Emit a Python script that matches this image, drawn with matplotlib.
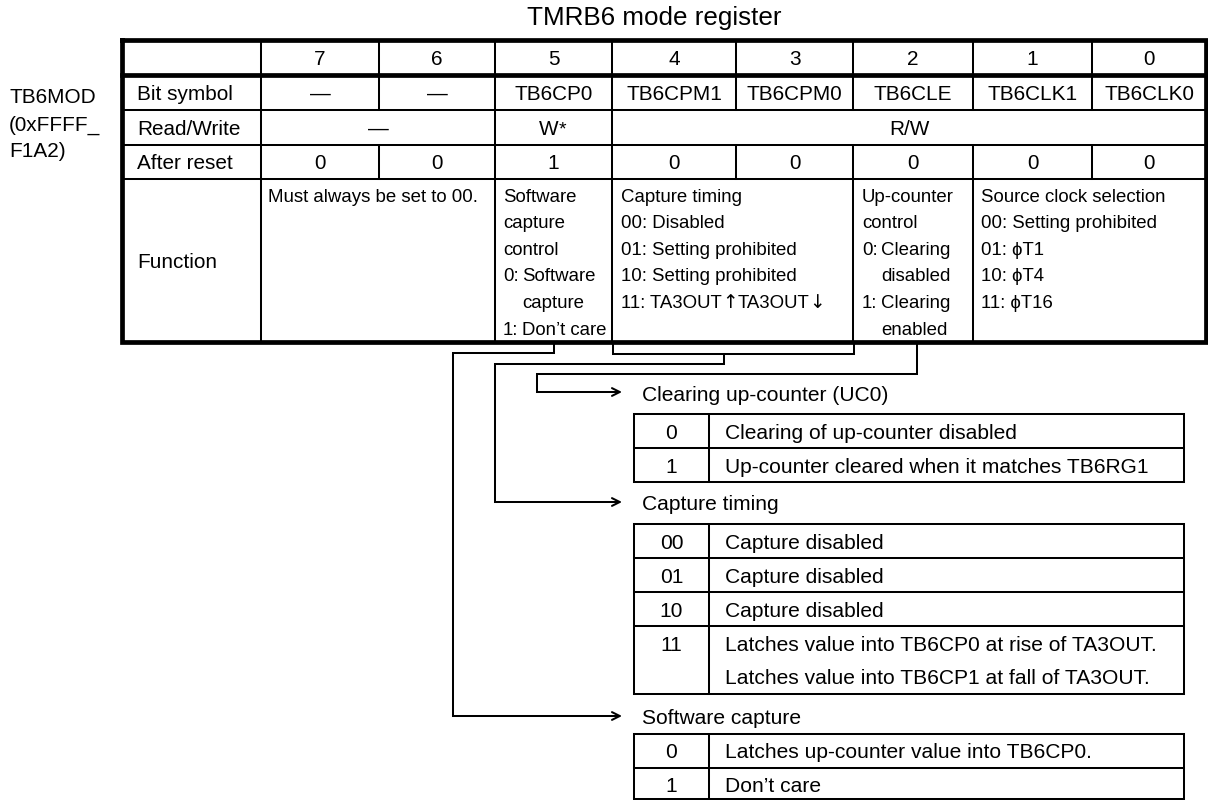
import matplotlib
matplotlib.use("Agg")
import matplotlib.pyplot as plt

FONT = ["Liberation Sans", "DejaVu Sans"]

# register content
title = "TMRB6 mode register"
reg_name = "TB6MOD\n(0xFFFF_\nF1A2)"
row_labels = ["", "Bit symbol", "Read/Write", "After reset", "Function"]
bits = ["7", "6", "5", "4", "3", "2", "1", "0"]
bit_symbols = ["\u2014", "\u2014", "TB6CP0", "TB6CPM1", "TB6CPM0", "TB6CLE", "TB6CLK1", "TB6CLK0"]
rw_groups = ["\u2014", "W", "R/W"]
reset_values = ["0", "0", "1", "0", "0", "0", "0", "0"]

func_76 = ["Must always be set to 00."]
func_5 = [("", "Software"), ("", "capture"), ("", "control"),
          ("0:", "Software"), ("", "capture"), ("1:", "Don\u2019t care")]
func_43 = ["Capture timing", "00: Disabled", "01: Setting prohibited",
           "10: Setting prohibited"]
func_43_last = ["11: TA3OUT", "\u2191", "TA3OUT", "\u2193"]
func_2 = [("", "Up-counter"), ("", "control"), ("0:", "Clearing"),
          ("", "disabled"), ("1:", "Clearing"), ("", "enabled")]
func_10 = ["Source clock selection", "00: Setting prohibited",
           "01: \u03d5T1", "10: \u03d5T4", "11: \u03d5T16"]

uc_title = "Clearing up-counter (UC0)"
uc_codes = ["0", "1"]
uc_desc = [["Clearing of up-counter disabled"],
           ["Up-counter cleared when it matches TB6RG1"]]

ct_title = "Capture timing"
ct_codes = ["00", "01", "10", "11"]
ct_desc = [["Capture disabled"], ["Capture disabled"], ["Capture disabled"],
           ["Latches value into TB6CP0 at rise of TA3OUT.",
            "Latches value into TB6CP1 at fall of TA3OUT."]]

sw_title = "Software capture"
sw_codes = ["0", "1"]
sw_desc = [["Latches up-counter value into TB6CP0."], ["Don\u2019t care"]]

# layout (pixels)
fig = plt.figure(figsize=(12.08, 8.0), dpi=100)
ax = fig.add_axes([0, 0, 1, 1])
ax.set_xlim(0, 1208)
ax.set_ylim(800, 0)
ax.axis("off")
renderer = fig.canvas.get_renderer()

THIN = 1.45
THICK = 3.4


def txt(x, yc, s, px, ha="left", family=FONT):
    # yc = vertical centre of capital letters
    return ax.text(x, yc + 0.716 * px / 2, s, fontsize=px * 0.72, ha=ha,
                   va="baseline", family=family, color="black")


def line(xs, ys, lw=THIN):
    ax.plot(xs, ys, color="black", lw=lw, solid_capstyle="projecting",
            solid_joinstyle="miter")


def arrow(x0, x1, y):
    ax.annotate("", xy=(x1, y), xytext=(x0, y),
                arrowprops=dict(arrowstyle="->", color="black", lw=THIN,
                                mutation_scale=14, shrinkA=0, shrinkB=0))


MPX = 20.8

# title and register name
txt(654, 15.5, title, 26, ha="center")
for i, s in enumerate(reg_name.split("\n")):
    txt(9, 96 + 27 * i, s, MPX)

cx = [122, 261, 379, 495, 612, 736, 853, 973, 1092, 1206]
ry = [40, 75, 110, 145, 179, 342]

# grid
for y in ry[2:5]:
    line([cx[0], cx[-1]], [y, y])
line([cx[1], cx[1]], [ry[0], ry[-1]])
for x in [379, 736, 1092]:
    line([x, x], [ry[0], ry[2]])
    line([x, x], [ry[3], ry[4]])
for x in [495, 612]:
    line([x, x], [ry[0], ry[-1]])
for x in [853, 973]:
    line([x, x], [ry[0], ry[2]])
    line([x, x], [ry[3], ry[-1]])
line([cx[0], cx[-1], cx[-1], cx[0], cx[0]], [ry[0], ry[0], ry[-1], ry[-1], ry[0]], THICK)
line([cx[0], cx[-1]], [ry[1], ry[1]], THICK)

# row labels
for i, lab in enumerate(row_labels[1:4]):
    txt(137, (ry[i + 1] + ry[i + 2]) / 2, lab, MPX)
txt(137, (ry[4] + ry[5]) / 2, row_labels[4], MPX)

# bit rows
for j in range(8):
    xc = (cx[j + 1] + cx[j + 2]) / 2
    txt(xc, 57.5, bits[j], MPX, ha="center")
    txt(xc, 92.5, bit_symbols[j], MPX, ha="center")
    txt(xc, 162, reset_values[j], MPX, ha="center")
txt((cx[1] + cx[3]) / 2, 127.5, rw_groups[0], MPX, ha="center")
txt((cx[3] + cx[4]) / 2 - 5, 127.5, rw_groups[1], MPX, ha="center")
ax.text((cx[3] + cx[4]) / 2 + 5, 134.5, "*", fontsize=14, ha="left",
        va="baseline", family=FONT)
txt((cx[4] + cx[-1]) / 2, 127.5, rw_groups[2], MPX, ha="center")

# function row
FS = 18.6
LS = 26.6
txt(268, 195, func_76[0], FS)
for k, (pre, body) in enumerate(func_5):
    if pre:
        txt(503, 195 + LS * k, pre, FS)
    txt(503 if not pre and k < 3 else 522, 195 + LS * k, body, FS)
for k, s in enumerate(func_43):
    txt(621, 195 + LS * k, s, FS)
# last line: text pieces with taller arrow glyphs placed one after another
xpos = 621
for k, piece in enumerate(func_43_last):
    is_arrow = k % 2 == 1
    t = txt(xpos, 195 + LS * 4, piece, FS,
            family=["DejaVu Sans"] if is_arrow else FONT)
    xpos += t.get_window_extent(renderer).width
for k, (pre, body) in enumerate(func_2):
    if pre:
        txt(862, 195 + LS * k, pre, FS)
    txt(862 if not pre and k < 2 else 881, 195 + LS * k, body, FS)
for k, s in enumerate(func_10):
    txt(981, 195 + LS * k, s, FS)

# connectors
line([554, 554, 453, 453], [342, 353, 353, 716])
arrow(453, 622, 716)
line([613, 613, 854, 854], [342, 354, 354, 342])
line([724, 724, 495, 495], [354, 364, 364, 502])
arrow(495, 622, 502)
line([917, 917, 537, 537], [342, 374, 374, 392])
arrow(537, 622, 392)

# lower tables
TL, TD, TR = 634, 709, 1184
LPX = 21.0


def sub_table(name, y_title, top, codes, descs, row_h=34):
    txt(642, y_title, name, LPX)
    y = top
    for code, desc in zip(codes, descs):
        h = row_h * len(desc)
        txt((TL + TD) / 2, y + row_h / 2, code, LPX, ha="center")
        for k, d in enumerate(desc):
            txt(725, y + row_h / 2 + row_h * k - (1 if k else 0), d, LPX)
        line([TL, TR], [y, y])
        y += h
    bottom = min(y, 799)
    line([TL, TR], [bottom, bottom])
    line([TL, TL], [top, bottom])
    line([TD, TD], [top, bottom])
    line([TR, TR], [top, bottom])


sub_table(uc_title, 393, 414, uc_codes, uc_desc)
sub_table(ct_title, 502, 524, ct_codes, ct_desc)
sub_table(sw_title, 716, 734, sw_codes, sw_desc, row_h=33.5)

fig.savefig("out.png", dpi=100)
